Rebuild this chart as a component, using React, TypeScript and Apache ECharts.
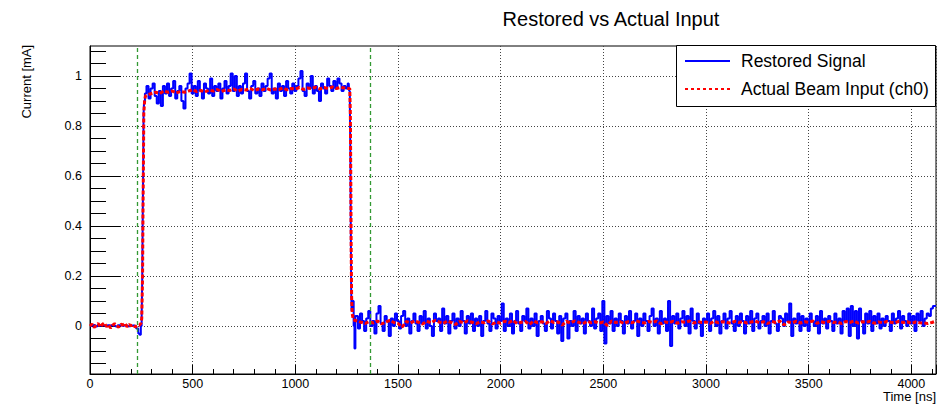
import React, { useEffect, useRef } from "react";
import * as echarts from "echarts";

const FONT = "'Liberation Sans', Arial, Helvetica, sans-serif";

// Axis structure
const X_MIN = 0;
const X_MAX = 4120;
const X_INTERVAL = 500;
const Y_MIN = -0.192;
const Y_MAX = 1.12;
const yMajorTicks = [0, 0.2, 0.4, 0.6, 0.8, 1];
const yMinorTicks = [
  -0.15, -0.1, -0.05, 0.05, 0.1, 0.15, 0.25, 0.3, 0.35, 0.45, 0.5, 0.55, 0.65,
  0.7, 0.75, 0.85, 0.9, 0.95, 1.05, 1.1,
];
const markerTimes = [228, 1365];

// ---------- Restored Signal (blue) ----------
// baseline, t = 0..240 step 10
const blueBaseStart = 0;
const blueBaseStep = 10;
const blueBaseline = [
  0.0, 0.002, 0.004, -0.002, 0.003, 0.001, 0.005, 0.002, -0.001, 0.003, 0.002,
  0.004, 0.001, -0.002, 0.003, 0.002, 0.001, 0.003, 0.002, -0.001, 0.001, 0.002,
  0.0, -0.01, -0.03,
];
const blueRiseTimes = [245, 250, 253, 256, 258, 260, 262, 265];
const blueRiseValues = [-0.035, 0.0, 0.025, 0.2, 0.45, 0.63, 0.85, 0.9];
// plateau, t = 270..1260 step 10
const bluePlatStart = 270;
const bluePlatStep = 10;
const bluePlateau = [
  0.93, 0.96, 0.91, 0.95, 0.97, 0.92, 0.89, 0.94, 0.88, 0.96,
  0.93, 0.97, 0.92, 0.95, 0.98, 0.91, 0.94, 0.96, 0.9, 0.87,
  0.95, 0.97, 1.01, 0.93, 0.96, 0.92, 0.98, 0.94, 0.91, 0.97,
  0.95, 0.93, 0.99, 0.92, 0.96, 0.94, 0.97, 0.91, 0.95, 0.98,
  0.93, 0.96, 1.01, 0.94, 1.0, 0.92, 0.96, 0.93, 0.97, 1.01,
  0.94, 0.91, 0.96, 0.98, 0.93, 0.95, 0.92, 0.97, 0.94, 0.96,
  0.99, 1.01, 0.93, 0.95, 0.91, 0.97, 0.94, 0.96, 0.92, 0.98,
  0.95, 0.93, 0.97, 0.94, 0.96, 0.99, 1.02, 0.94, 0.92, 0.97,
  0.95, 1.0, 0.93, 0.96, 0.94, 0.9, 0.97, 0.95, 0.93, 0.99,
  0.96, 0.94, 0.98, 0.95, 0.99, 0.97, 0.94, 0.96, 0.95, 0.97,
];
const blueFallTimes = [1264, 1267, 1269, 1271, 1273, 1275, 1278, 1282, 1286, 1290, 1295];
const blueFallValues = [0.94, 0.88, 0.7, 0.4, 0.15, 0.06, 0.09, 0.1, 0.0, -0.09, 0.04];
// tail, t = 1300..4120 step 10
const blueTailStart = 1300;
const blueTailStep = 10;
const blueTail = [
  0.04, -0.01, 0.05, 0.02, -0.02, 0.03, 0.06, 0.0, 0.02, -0.03,
  0.05, 0.08, 0.01, -0.02, 0.04, 0.02, -0.04, 0.03, 0.0, 0.05,
  0.02, -0.01, 0.04, 0.06, 0.0, 0.03, -0.03, 0.02, 0.05, 0.01,
  -0.02, 0.04, 0.01, 0.06, -0.01, 0.03, 0.0, -0.04, 0.05, 0.02,
  0.03, -0.02, 0.07, 0.01, 0.04, -0.03, 0.02, 0.05, -0.01, 0.03,
  0.0, 0.06, 0.02, -0.03, 0.04, 0.01, 0.05, -0.02, 0.03, 0.0,
  0.04, -0.04, 0.02, 0.06, 0.01, -0.02, 0.05, 0.03, -0.01, 0.04,
  0.02, 0.09, -0.02, 0.03, 0.0, 0.05, -0.03, 0.02, 0.06, 0.01,
  -0.02, 0.04, 0.02, 0.07, -0.01, 0.03, 0.0, 0.05, -0.04, 0.02,
  0.04, 0.01, -0.02, 0.06, 0.03, -0.01, 0.05, 0.02, -0.03, 0.04,
  -0.06, 0.03, 0.05, -0.05, 0.02, 0.0, 0.06, -0.02, 0.04, 0.01,
  0.03, -0.03, 0.05, 0.02, 0.0, 0.07, -0.01, 0.03, 0.05, -0.02,
  0.1, -0.07, 0.04, 0.01, 0.06, -0.02, 0.03, 0.0, 0.05, 0.02,
  -0.03, 0.04, 0.01, 0.06, -0.01, 0.02, 0.05, -0.04, 0.03, 0.0,
  0.05, 0.02, -0.02, 0.04, 0.07, 0.0, 0.03, -0.03, 0.06, 0.01,
  0.03, -0.02, 0.1, -0.08, 0.04, 0.01, 0.05, -0.01, 0.03, 0.06,
  0.0, 0.04, -0.03, 0.07, 0.02, -0.01, 0.05, 0.01, -0.04, 0.03,
  0.02, 0.05, -0.02, 0.03, 0.06, 0.0, 0.04, -0.03, 0.02, 0.05,
  -0.01, 0.03, 0.06, 0.01, -0.02, 0.04, 0.0, 0.05, 0.02, -0.03,
  0.04, 0.01, 0.06, -0.02, 0.03, 0.05, -0.01, 0.02, 0.04, 0.0,
  0.05, -0.03, 0.02, 0.06, 0.01, -0.02, 0.04, 0.03, 0.0, 0.05,
  0.02, 0.09, -0.04, 0.03, 0.01, 0.05, -0.02, 0.04, 0.0, 0.03,
  -0.02, 0.05, 0.02, 0.0, 0.04, -0.03, 0.06, 0.01, 0.03, -0.01,
  0.04, 0.02, -0.02, 0.05, 0.01, 0.03, -0.03, 0.06, 0.02, 0.07,
  -0.04, 0.08, 0.0, 0.06, -0.05, 0.07, 0.02, -0.03, 0.05, 0.01,
  0.06, -0.02, 0.04, 0.01, 0.05, -0.01, 0.03, 0.0, 0.04, 0.02,
  -0.02, 0.05, 0.01, 0.03, 0.06, -0.01, 0.04, 0.02, 0.0, 0.05,
  0.01, 0.04, -0.02, 0.05, 0.02, 0.06, 0.0, 0.03, 0.05, 0.04,
  0.07, 0.08, 0.08,
];

// ---------- Actual Beam Input (ch0) (red) ----------
const redBaseStart = 0;
const redBaseStep = 10;
const redBaseline = [
  0.0, 0.008, -0.006, 0.004, 0.01, -0.004, 0.006, 0.012, -0.002, 0.005, -0.008,
  0.003, 0.009, 0.002, -0.005, 0.007, 0.004, 0.011, -0.003, 0.006, 0.001, 0.005,
  -0.004, 0.002, 0.003,
];
const redRiseTimes = [248, 252, 256, 258, 260, 262, 266, 270];
const redRiseValues = [0.01, 0.03, 0.2, 0.45, 0.63, 0.85, 0.9, 0.92];
const redPlatStart = 280;
const redPlatStep = 20;
const redPlateau = [
  0.925, 0.93, 0.935, 0.93, 0.94, 0.935, 0.94, 0.932, 0.938, 0.935,
  0.94, 0.945, 0.938, 0.942, 0.936, 0.944, 0.94, 0.946, 0.938, 0.944,
  0.942, 0.948, 0.94, 0.946, 0.944, 0.95, 0.942, 0.948, 0.945, 0.95,
  0.944, 0.948, 0.946, 0.952, 0.945, 0.95, 0.948, 0.954, 0.946, 0.952,
  0.95, 0.955, 0.948, 0.954, 0.95, 0.956, 0.95, 0.954, 0.952, 0.95,
];
const redFallTimes = [1265, 1268, 1270, 1272, 1274, 1277, 1282];
const redFallValues = [0.95, 0.85, 0.6, 0.3, 0.12, 0.05, 0.025];
const redTailStart = 1300;
const redTailStep = 20;
const redTail = [
  0.02, 0.015, 0.01, 0.018, 0.012, 0.02, 0.008, 0.016, 0.022, 0.014,
  0.01, -0.005, 0.018, 0.012, 0.02, 0.015, 0.008, 0.019, 0.013, 0.022,
  0.016, 0.01, 0.02, 0.014, 0.006, 0.018, 0.012, 0.021, 0.015, 0.009,
  0.017, 0.013, 0.02, 0.008, 0.016, 0.011, 0.019, 0.014, 0.022, 0.01,
  0.015, 0.018, 0.006, 0.02, 0.013, 0.017, 0.01, 0.021, 0.014, 0.016,
  0.004, 0.018, 0.012, 0.02, 0.015, 0.009, 0.019, 0.013, 0.017, 0.011,
  0.016, 0.002, 0.02, 0.014, 0.018, 0.01, 0.017, 0.013, 0.021, 0.015,
  0.012, 0.018, 0.014, 0.02, 0.009, 0.016, 0.013, 0.019, 0.011, 0.017,
  0.015, 0.02, 0.012, 0.018, 0.014, 0.016, 0.01, 0.019, 0.013, 0.017,
  0.015, 0.011, 0.019, 0.014, 0.018, 0.012, 0.016, 0.02, 0.013, 0.017,
  0.01, 0.018, 0.014, 0.02, 0.004, 0.016, 0.013, 0.019, 0.012, 0.017,
  0.015, 0.02, 0.011, 0.017, 0.013, 0.019, 0.014, 0.016, 0.01, 0.018,
  0.014, 0.02, 0.012, 0.017, 0.015, 0.019, 0.011, 0.016, 0.013, 0.018,
  0.015, 0.012, 0.019, 0.014, 0.017, 0.01, 0.016, 0.013, 0.012, 0.01,
  0.014, 0.02,
];

const TITLE = "Restored vs Actual Input";
const X_NAME = "Time [ns]";
const Y_NAME = "Current [mA]";
const LEGEND_BLUE = "Restored Signal";
const LEGEND_RED = "Actual Beam Input (ch0)";

const BLUE = "#0000ff";
const RED = "#ff0000";
const GREEN = "#339933";

function regular(start: number, step: number, vals: number[]) {
  return vals.map((v, i) => [start + i * step, v]);
}
function paired(times: number[], vals: number[]) {
  return times.map((t, i) => [t, vals[i]]);
}

const blueData = [
  ...regular(blueBaseStart, blueBaseStep, blueBaseline),
  ...paired(blueRiseTimes, blueRiseValues),
  ...regular(bluePlatStart, bluePlatStep, bluePlateau),
  ...paired(blueFallTimes, blueFallValues),
  ...regular(blueTailStart, blueTailStep, blueTail),
];
const redData = [
  ...regular(redBaseStart, redBaseStep, redBaseline),
  ...paired(redRiseTimes, redRiseValues),
  ...regular(redPlatStart, redPlatStep, redPlateau),
  ...paired(redFallTimes, redFallValues),
  ...regular(redTailStart, redTailStep, redTail),
];

export default function App() {
  const ref = useRef<HTMLDivElement>(null);
  useEffect(() => {
    if (!ref.current) return;
    const chart = echarts.init(ref.current, undefined, { renderer: "svg" });
    const grid = "#444";
    chart.setOption({
      animation: false,
      backgroundColor: "#ffffff",
      textStyle: { fontFamily: FONT },
      grid: {
        left: 90,
        right: 2,
        top: 46,
        bottom: 32,
        show: true,
        borderColor: "#000",
        borderWidth: 1,
        backgroundColor: "transparent",
      },
      xAxis: [
        {
          type: "value",
          min: X_MIN,
          max: X_MAX,
          interval: X_INTERVAL,
          axisLine: { show: true, onZero: false, lineStyle: { color: "#000", width: 1 } },
          axisTick: { show: true, inside: true, length: 9, lineStyle: { color: "#000" } },
          minorTick: { show: true, splitNumber: 5, length: 5, lineStyle: { color: "#000" } },
          axisLabel: {
            show: true,
            margin: 3,
            fontSize: 12.5,
            color: "#000",
            fontFamily: FONT,
            showMaxLabel: false,
            formatter: (v: number) => String(v),
          },
          splitLine: { show: true, lineStyle: { color: grid, type: [1, 2], width: 1 } },
        },
      ],
      yAxis: [
        {
          type: "value",
          min: Y_MIN,
          max: Y_MAX,
          axisLine: { show: true, onZero: false, lineStyle: { color: "#000", width: 1 } },
          axisTick: {
            show: true,
            inside: true,
            length: 31,
            customValues: yMajorTicks,
            lineStyle: { color: "#000" },
          },
          axisLabel: {
            show: true,
            margin: 8,
            fontSize: 12.5,
            color: "#000",
            fontFamily: FONT,
            customValues: yMajorTicks,
            formatter: (v: number) => String(v),
          },
          splitLine: { show: true, lineStyle: { color: grid, type: [1, 2], width: 1 } },
        },
        {
          type: "value",
          min: Y_MIN,
          max: Y_MAX,
          position: "left",
          offset: 0,
          axisLine: { show: false },
          axisTick: {
            show: true,
            inside: true,
            length: 16,
            customValues: yMinorTicks,
            lineStyle: { color: "#000" },
          },
          axisLabel: { show: false },
          splitLine: { show: false },
        },
      ],
      series: [
        {
          name: LEGEND_BLUE,
          type: "line",
          data: blueData,
          showSymbol: false,
          symbol: "none",
          step: "middle",
          lineStyle: { color: BLUE, width: 2 },
          itemStyle: { color: BLUE },
          z: 3,
        },
        {
          name: LEGEND_RED,
          type: "line",
          data: redData,
          showSymbol: false,
          symbol: "none",
          lineStyle: { color: RED, width: 3, type: [4, 2] },
          itemStyle: { color: RED },
          z: 4,
          markLine: {
            silent: true,
            symbol: ["none", "none"],
            label: { show: false },
            lineStyle: { color: GREEN, type: [4, 3], width: 1.3 },
            data: markerTimes.map((t) => ({ xAxis: t })),
          },
        },
      ],
      graphic: [
        {
          type: "text",
          x: 611,
          y: 18.7,
          z: 100,
          style: {
            text: TITLE,
            fill: "#000",
            font: `20px ${FONT}`,
            textAlign: "center",
            textVerticalAlign: "middle",
          },
        },
        {
          type: "text",
          x: 26.5,
          y: 81.7,
          rotation: Math.PI / 2,
          z: 100,
          style: {
            text: Y_NAME,
            fill: "#000",
            font: `13px ${FONT}`,
            textAlign: "center",
            textVerticalAlign: "middle",
          },
        },
        {
          type: "text",
          x: 936,
          y: 396.5,
          z: 100,
          style: {
            text: X_NAME,
            fill: "#000",
            font: `13px ${FONT}`,
            textAlign: "right",
            textVerticalAlign: "middle",
          },
        },
        {
          type: "group",
          z: 100,
          children: [
            {
              type: "rect",
              z: 100,
              shape: { x: 676.5, y: 45.5, width: 259, height: 61 },
              style: { fill: "#fff", stroke: "#000", lineWidth: 1 },
            },
            {
              type: "line",
              z: 101,
              shape: { x1: 685, y1: 61, x2: 730, y2: 61 },
              style: { stroke: BLUE, lineWidth: 2 },
            },
            {
              type: "line",
              z: 101,
              shape: { x1: 685, y1: 89, x2: 730, y2: 89 },
              style: { stroke: RED, lineWidth: 2, lineDash: [3, 3] },
            },
            {
              type: "text",
              z: 101,
              x: 741,
              y: 61,
              style: {
                text: LEGEND_BLUE,
                fill: "#000",
                font: `17.5px ${FONT}`,
                textAlign: "left",
                textVerticalAlign: "middle",
              },
            },
            {
              type: "text",
              z: 101,
              x: 741,
              y: 89,
              style: {
                text: LEGEND_RED,
                fill: "#000",
                font: `17.5px ${FONT}`,
                textAlign: "left",
                textVerticalAlign: "middle",
              },
            },
          ],
        },
      ],
    });
    return () => chart.dispose();
  }, []);
  return (
    <div
      ref={ref}
      style={{ position: "absolute", left: 0, top: 0, width: 938, height: 406, background: "#fff" }}
    />
  );
}
